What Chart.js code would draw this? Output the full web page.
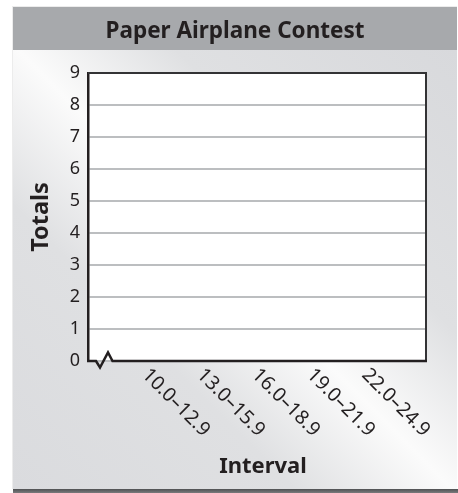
<!DOCTYPE html>
<html><head><meta charset="utf-8">
<script src="https://cdn.jsdelivr.net/npm/chart.js@4.4.1/dist/chart.umd.min.js"></script>
<style>html,body{margin:0;padding:0;background:#fff;overflow:hidden}canvas{display:block}</style>
</head><body>
<canvas id="c" width="458" height="493"></canvas>
<script>
const chartTitle = 'Paper Airplane Contest';
const xAxisTitle = 'Interval';
const yAxisTitle = 'Totals';
const categories = ['10.0–12.9', '13.0–15.9', '16.0–18.9', '19.0–21.9', '22.0–24.9'];
const totals = [null, null, null, null, null];
const yTicks = [0, 1, 2, 3, 4, 5, 6, 7, 8, 9];

const FONT = '"Noto Sans", "Open Sans", sans-serif';
const INK = '#231f20';

const frame = {
  id: 'frame',
  beforeDraw(chart) {
    const {ctx, width, height, chartArea: a} = chart;
    const pl = 13, pt = 7, pr = 457, pb = 489;
    ctx.save();
    ctx.fillStyle = '#fff'; ctx.fillRect(0, 0, width, height);
    ctx.fillStyle = '#ececec'; ctx.fillRect(pl - 1, pt - 1, pr - pl + 1, pb - pt + 1);
    const g = ctx.createLinearGradient(pl, pb, pr, pt + 43);
    g.addColorStop(0, '#dadbde');
    g.addColorStop(0.32, '#dfe0e2');
    g.addColorStop(0.5, '#fbfbfb');
    g.addColorStop(0.68, '#dfe0e2');
    g.addColorStop(1, '#d8d9dc');
    ctx.fillStyle = g; ctx.fillRect(pl, pt, pr - pl, pb - pt);
    ctx.fillStyle = '#a7a9ac'; ctx.fillRect(pl, pt, pr - pl, 43);
    const sg = ctx.createLinearGradient(0, pb, 0, height);
    sg.addColorStop(0, '#505153'); sg.addColorStop(1, '#7a7b7d');
    ctx.fillStyle = sg; ctx.fillRect(pl, pb, width - pl, height - pb);
    ctx.fillStyle = '#fff'; ctx.fillRect(a.left, a.top, a.right - a.left, a.bottom - a.top);
    ctx.fillStyle = INK; ctx.font = 'bold 22.5px ' + FONT;
    ctx.textAlign = 'center'; ctx.textBaseline = 'alphabetic';
    ctx.fillText(chartTitle, (pl + pr) / 2, 37.5);
    ctx.restore();
  },
  afterDraw(chart) {
    const {ctx, chartArea: a, scales: {x}} = chart;
    ctx.save();
    ctx.strokeStyle = '#333335'; ctx.lineWidth = 2;
    ctx.beginPath(); ctx.moveTo(a.left, a.top); ctx.lineTo(a.right, a.top); ctx.lineTo(a.right, a.bottom); ctx.stroke();
    // x axis with break symbol
    ctx.strokeStyle = INK; ctx.lineWidth = 2.5; ctx.lineJoin = 'miter';
    const b = a.bottom, l = a.left;
    ctx.beginPath();
    ctx.moveTo(l - 1, b); ctx.lineTo(l + 8, b); ctx.lineTo(l + 12, b + 6.5);
    ctx.lineTo(l + 20, b - 8.5); ctx.lineTo(l + 24.5, b); ctx.lineTo(a.right + 1, b);
    ctx.stroke();
    // rotated category labels
    ctx.fillStyle = INK; ctx.font = '19.5px ' + FONT;
    ctx.textAlign = 'left'; ctx.textBaseline = 'top';
    categories.forEach((c, i) => {
      const ex = x.getPixelForValue(i + 1);
      ctx.save();
      ctx.translate(ex + 9, b + 4);
      ctx.rotate(Math.PI / 4);
      ctx.fillText(c, 0, 0);
      ctx.restore();
    });
    ctx.font = 'bold 22px ' + FONT; ctx.textAlign = 'center'; ctx.textBaseline = 'alphabetic';
    ctx.fillText(xAxisTitle, (a.left + a.right) / 2 + 6, 472.5);
    ctx.restore();
  }
};

new Chart(document.getElementById('c'), {
  type: 'bar',
  data: {
    datasets: [{
      label: yAxisTitle,
      data: categories.map((c, i) => ({x: i + 1.5, y: totals[i]})),
      backgroundColor: '#808285',
      borderWidth: 0
    }]
  },
  options: {
    responsive: false,
    animation: false,
    layout: {padding: {top: 73, right: 32, bottom: 0, left: 0}},
    plugins: {legend: {display: false}, tooltip: {enabled: false}, title: {display: false}},
    scales: {
      x: {
        type: 'linear', min: 0, max: 6.15, offset: false,
        grid: {display: false}, border: {display: false}, ticks: {display: false},
        afterFit(s) { s.height = 132; }
      },
      y: {
        min: 0, max: 9,
        afterBuildTicks(s) { s.ticks = yTicks.map(v => ({value: v})); },
        ticks: {font: {family: FONT, size: 18}, color: INK, padding: 8},
        grid: {color: '#bcbec0', lineWidth: 2, drawTicks: false},
        border: {display: true, color: INK, width: 2.5},
        title: {display: true, text: yAxisTitle, color: INK, font: {family: FONT, size: 23.5, weight: 'bold'}, padding: {top: 27, bottom: 0}},
        afterFit(s) { s.width = 88; }
      }
    }
  },
  plugins: [frame]
});
</script>
</body></html>
